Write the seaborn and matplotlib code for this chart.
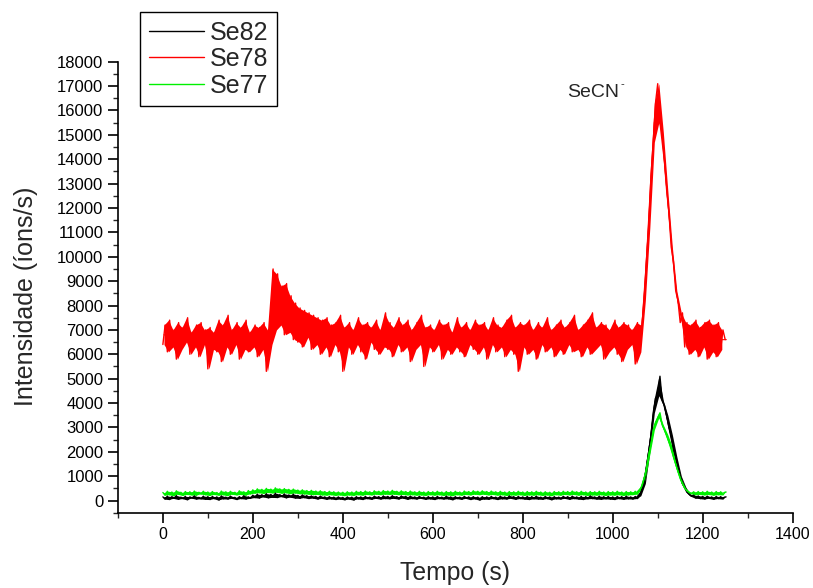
import numpy as np
import pandas as pd
import matplotlib
matplotlib.use("Agg")
import matplotlib.pyplot as plt
from matplotlib.ticker import MultipleLocator
from matplotlib.lines import Line2D
import seaborn as sns

# time axis (s), one reading every 5 s
tempo = np.arange(0, 1251, 5)

se78 = [
    6400, 7200, 6100, 7400, 6300, 7000, 5800, 7300, 6200, 7100, 6500, 7500, 6000, 6900, 6300, 7200, 5900, 7300, 6400, 7000,
    5400, 7100, 6200, 6900, 6100, 7400, 5700, 7200, 6300, 7600, 6000, 7000, 6400, 7300, 5800, 7100, 6200, 7400, 6100, 6900,
    6300, 7200, 5900, 7100, 6200, 7300, 5300, 7000, 6400, 9500, 7000, 9300, 7200, 8800, 6800, 8900, 6900, 8400, 6600, 8100,
    6500, 7900, 6300, 7800, 6700, 7700, 6200, 7600, 6400, 7500, 6000, 7400, 6300, 7500, 5900, 7200, 6400, 7300, 6100, 7600,
    5300, 7100, 6300, 7300, 6000, 7000, 6400, 7500, 6100, 7200, 5800, 7300, 6500, 7100, 6200, 7400, 6000, 7000, 6300, 7700,
    6200, 7300, 5900, 7100, 6400, 7500, 6100, 7200, 6300, 7400, 5700, 7000, 6200, 7300, 6400, 7600, 5500, 7100, 6300, 7200,
    6100, 7000, 6400, 7400, 5800, 7200, 6200, 7300, 6000, 6900, 6300, 7500, 6100, 7100, 5900, 7300, 6400, 7000, 6200, 7400,
    6000, 7200, 6300, 7300, 5800, 7000, 6400, 7500, 6100, 7200, 6300, 7100, 5900, 7400, 6200, 7600, 6000, 7100, 5300, 7300,
    6300, 7200, 6000, 7400, 6200, 7000, 5800, 7300, 6400, 7100, 6100, 7500, 6300, 7000, 5900, 7200, 6200, 7400, 6000, 7100,
    6400, 7300, 6100, 7600, 6200, 7000, 5900, 7200, 6300, 7400, 6000, 7700, 6200, 7100, 6400, 7300, 5800, 7200, 6100, 7000,
    6300, 7400, 6000, 7100, 5700, 7300, 6200, 7200, 6400, 7000, 5600, 7300, 6100, 7200, 8200, 9900, 11200, 13300, 14700, 16300,
    17100, 15500, 15100, 13900, 12700, 11800, 10400, 9800, 8600, 8200, 7300, 7700, 6300, 7300, 6000, 7200, 6200, 7400, 5900, 7100,
    6300, 7300, 5800, 7400, 6100, 7200, 5900, 7300, 6200, 7000, 6600,
]

se82 = [
    150, 60, 180, 40, 160, 90, 200, 50, 140, 80, 170, 30, 150, 100, 190, 60, 130, 70, 180, 50,
    160, 40, 170, 80, 150, 20, 190, 70, 140, 60, 180, 90, 130, 40, 160, 80, 200, 60, 150, 90,
    220, 120, 260, 100, 240, 150, 280, 110, 250, 130, 300, 120, 240, 160, 270, 110, 230, 140, 260, 100,
    210, 90, 230, 120, 200, 80, 190, 100, 170, 60, 180, 90, 150, 50, 160, 70, 140, 40, 150, 60,
    130, 30, 150, 60, 140, 20, 160, 70, 150, 40, 170, 80, 140, 50, 180, 90, 160, 60, 190, 80,
    170, 70, 200, 90, 160, 60, 190, 100, 170, 50, 180, 80, 150, 60, 170, 90, 140, 50, 160, 70,
    150, 40, 170, 80, 140, 60, 180, 70, 150, 30, 160, 80, 140, 50, 170, 90, 150, 40, 160, 70,
    140, 20, 160, 60, 150, 50, 170, 80, 140, 40, 180, 70, 150, 60, 190, 90, 160, 50, 170, 80,
    150, 60, 170, 40, 160, 70, 180, 60, 140, 50, 170, 80, 150, 30, 160, 70, 140, 60, 170, 90,
    160, 50, 180, 80, 150, 60, 170, 40, 160, 70, 190, 80, 150, 60, 180, 50, 160, 70, 170, 60,
    150, 40, 170, 80, 160, 50, 180, 70, 150, 60, 170, 80, 200, 450, 700, 1400, 2000, 2700, 3600, 4200,
    4300, 5100, 4100, 3900, 3500, 3000, 2700, 2100, 1800, 1300, 1000, 700, 550, 350, 250, 180, 220, 100, 190, 80,
    170, 60, 180, 90, 150, 50, 170, 80, 160, 60, 150,
]

se77 = [
    330, 220, 380, 240, 350, 200, 400, 260, 340, 210, 370, 250, 360, 230, 390, 220, 340, 270, 380, 240,
    350, 210, 370, 250, 330, 220, 390, 240, 360, 200, 380, 260, 340, 230, 400, 250, 360, 220, 410, 270,
    440, 300, 480, 320, 460, 290, 500, 330, 470, 310, 520, 340, 480, 300, 490, 320, 460, 280, 470, 310,
    430, 280, 440, 270, 410, 260, 420, 240, 390, 250, 400, 230, 370, 220, 380, 240, 360, 210, 350, 230,
    340, 200, 360, 230, 350, 210, 380, 240, 370, 220, 390, 250, 360, 230, 400, 260, 380, 240, 410, 260,
    390, 250, 420, 260, 380, 240, 400, 250, 370, 230, 390, 240, 360, 220, 380, 230, 350, 210, 370, 240,
    360, 220, 380, 240, 350, 210, 370, 230, 360, 200, 380, 240, 350, 220, 390, 250, 370, 230, 400, 260,
    380, 240, 400, 260, 370, 230, 390, 250, 360, 220, 380, 240, 350, 210, 370, 230, 360, 220, 380, 240,
    350, 210, 370, 230, 360, 220, 380, 240, 350, 210, 360, 230, 340, 200, 370, 240, 360, 220, 380, 250,
    370, 230, 390, 250, 360, 220, 380, 240, 350, 210, 370, 230, 360, 220, 380, 240, 350, 210, 370, 230,
    360, 220, 380, 240, 350, 210, 370, 230, 360, 240, 380, 260, 420, 600, 900, 1300, 1900, 2300, 2900, 3200,
    3400, 3600, 3100, 2900, 2700, 2400, 2200, 1800, 1500, 1200, 900, 700, 500, 400, 330, 280, 360, 240, 370, 250,
    360, 230, 380, 250, 350, 220, 370, 240, 360, 230, 350,
]

series_names = ["Se82", "Se78", "Se77"]
series_colors = {"Se82": "#000000", "Se78": "#ff0000", "Se77": "#00f000"}
x_ticks = [0, 200, 400, 600, 800, 1000, 1200, 1400]
y_ticks = list(range(0, 18001, 1000))

sns.set_theme(style="ticks")
plt.rcParams["font.family"] = ["Liberation Sans", "DejaVu Sans"]

fig = plt.figure(figsize=(8.13, 5.88), dpi=100)
ax = fig.add_axes([0.145, 0.128, 0.830, 0.767])

df = pd.DataFrame({"Tempo": tempo, "Se82": se82, "Se78": se78, "Se77": se77})
# pairs of consecutive readings -> seaborn draws min..max band of each pair (dense noise look)
df["par"] = (df["Tempo"] // 10) * 10 + 2.5

for name in ["Se78", "Se82", "Se77"]:
    c = series_colors[name]
    sns.lineplot(data=df, x="par", y=name, ax=ax, color=c, linewidth=0.8,
                 errorbar=("pi", 100), err_kws={"alpha": 1.0, "linewidth": 0}, legend=False)
    sns.lineplot(data=df, x="Tempo", y=name, ax=ax, color=c,
                 linewidth=1.0, estimator=None, legend=False)

ax.set_xlim(-100, 1400)
ax.set_ylim(-500, 18000)
ax.set_xticks(x_ticks)
ax.set_yticks(y_ticks)
ax.xaxis.set_minor_locator(MultipleLocator(100))
ax.yaxis.set_minor_locator(MultipleLocator(500))
ax.tick_params(axis="both", which="major", direction="out", length=7, width=1.2,
               colors="black", pad=3.5)
ax.tick_params(axis="y", which="major", labelsize=12)
ax.tick_params(axis="x", which="major", labelsize=11.5)
ax.tick_params(axis="both", which="minor", direction="out", length=3.5, width=1.0)
for s in ["top", "right"]:
    ax.spines[s].set_visible(False)
for s in ["left", "bottom"]:
    ax.spines[s].set_linewidth(1.2)
    ax.spines[s].set_color("black")

ax.set_xlabel("Tempo (s)", fontsize=17.8)
ax.set_ylabel("Intensidade (íons/s)", fontsize=18)
ax.xaxis.set_label_coords(0.5, -0.108)
ax.yaxis.set_label_coords(-0.118, 0.479)

ax.text(899, 16545, "SeCN", fontsize=14, ha="left", va="baseline")
ax.text(1017, 17090, "-", fontsize=8, ha="left", va="center")

handles = [Line2D([0], [0], color=series_colors[n], linewidth=1.0) for n in series_names]
leg = fig.legend(handles, series_names, loc="upper left", bbox_to_anchor=(0.172, 0.98),
                 bbox_transform=fig.transFigure, fontsize=18, frameon=True, fancybox=False,
                 edgecolor="black", framealpha=1, handlelength=2.2, labelspacing=0.1,
                 borderaxespad=0, borderpad=0.35, handletextpad=0.25)
leg.get_frame().set_linewidth(1.0)

fig.savefig("out.png", dpi=100)
